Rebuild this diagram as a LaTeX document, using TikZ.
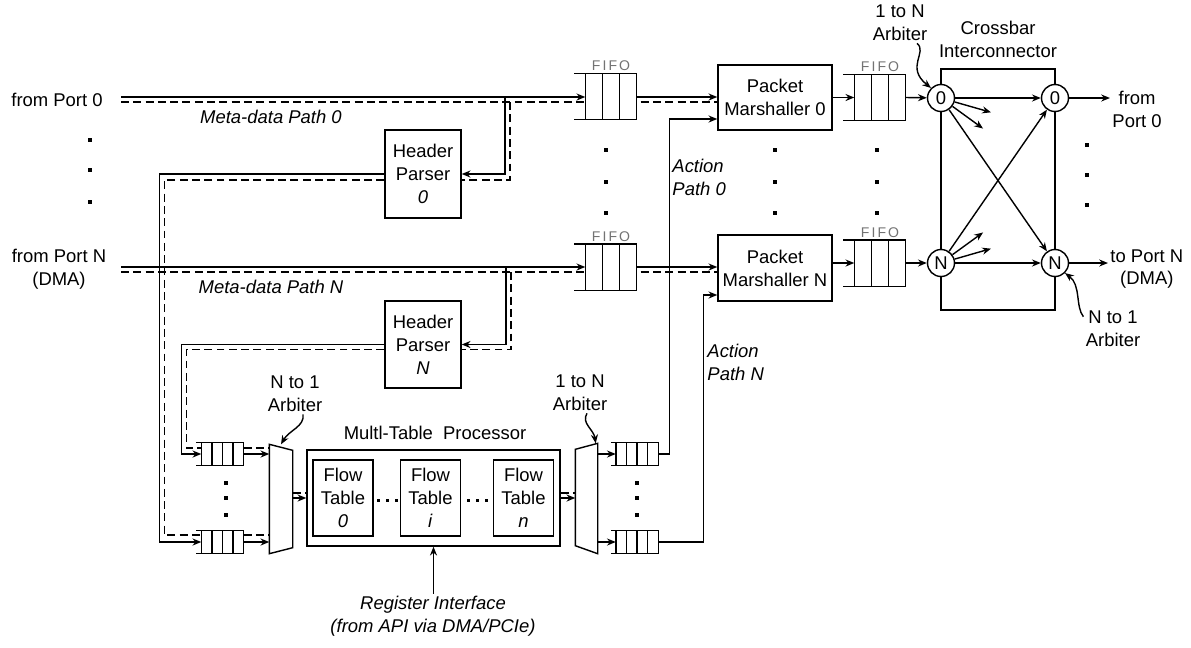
\documentclass[tikz,border=0pt]{standalone}
\usepackage{fontspec}
\setmainfont{Liberation Sans}
\usetikzlibrary{arrows.meta,positioning,calc}

% cells of a fifo / queue: node name, number of cells, lead-in length
\newcommand{\drawcells}[3]{%
  \draw ([xshift=-#3]#1.north west) -- (#1.north east)
        ([xshift=-#3]#1.south west) -- (#1.south east);
  \foreach \k in {0,...,#2}
    \draw ($(#1.north west)!\k/#2!(#1.north east)$) -- ($(#1.south west)!\k/#2!(#1.south east)$);
}

\begin{document}
\begin{tikzpicture}[
        x=0.02cm, y=-0.02cm, line width=0.8pt,
        font={\fontsize{10.5}{13}\selectfont},
        >={Stealth[length=5pt,width=4pt]},
        blk/.style={draw, align=center, inner sep=0pt},
        fifo/.style={minimum width=1cm, minimum height=0.9cm, inner sep=0pt},
        queue/.style={minimum width=0.82cm, minimum height=0.44cm, inner sep=0pt},
        mux/.style={minimum width=0.44cm, minimum height=2.16cm, inner sep=0pt},
        xnode/.style={circle, draw, fill=white, minimum size=0.54cm, inner sep=0pt},
        sig/.style={->},
        meta/.style={dash pattern=on 4.5pt off 2.5pt},
        lbl/.style={align=center, inner sep=1pt},
        ilbl/.style={lbl, font={\fontsize{10.5}{13}\selectfont\itshape}},
        fifolbl/.style={inner sep=1pt, text=black!55, font={\fontsize{8}{9}\selectfont\addfontfeature{LetterSpace=15}}},
        dotmark/.style={fill, minimum size=0.08cm, inner sep=0pt}
    ]
    \useasboundingbox (0,0) rectangle (1191,647);

    % blocks
    \node[blk, minimum width=1.52cm, minimum height=1.76cm] (hp0) at (423,174) {Header\\Parser\\\textit{0}};
    \node[blk, minimum width=1.52cm, minimum height=1.74cm] (hpN) at (423,344.5) {Header\\Parser\\\textit{N}};
    \node[blk, minimum width=2.28cm, minimum height=1.3cm] (pm0) at (775,97.5) {Packet\\Marshaller 0};
    \node[blk, minimum width=2.28cm, minimum height=1.32cm] (pmN) at (775,268) {Packet\\Marshaller N};
    \node[blk, minimum width=5.06cm, minimum height=1.92cm] (mtp) at (433.5,498) {};
    \node[blk, minimum width=1.2cm, minimum height=1.52cm] (ft0) at (343,498) {Flow\\Table\\\textit{0}};
    \node[blk, minimum width=1.2cm, minimum height=1.52cm] (fti) at (430.5,498) {Flow\\Table\\\textit{i}};
    \node[blk, minimum width=1.2cm, minimum height=1.52cm] (ftn) at (523.5,498) {Flow\\Table\\\textit{n}};

    % fifos and queues
    \node[fifo] (fifo0) at (611,96.5) {};
    \node[fifo] (fifoN) at (611,267) {};
    \node[fifo] (ofifo0) at (880,97.5) {};
    \node[fifo] (ofifoN) at (880,263) {};
    \node[queue] (qa) at (222.5,454) {};
    \node[queue] (qb) at (222.5,542) {};
    \node[queue] (qc) at (637,454) {};
    \node[queue] (qd) at (637,542) {};
    \drawcells{fifo0}{3}{0.22cm}
    \drawcells{fifoN}{3}{0.22cm}
    \drawcells{ofifo0}{3}{0.22cm}
    \drawcells{ofifoN}{3}{0.22cm}
    \drawcells{qa}{4}{0.1cm}
    \drawcells{qb}{4}{0.1cm}
    \drawcells{qc}{4}{0.1cm}
    \drawcells{qd}{4}{0.1cm}
    \node[fifolbl, above=0pt of fifo0] (fl0) {FIFO};
    \node[fifolbl, above=0pt of fifoN] (flN) {FIFO};
    \node[fifolbl, above=0pt of ofifo0] (ofl0) {FIFO};
    \node[fifolbl, above=0pt of ofifoN] (oflN) {FIFO};

    % arbiters
    \node[mux] (mux1) at (281,499) {};
    \node[mux, minimum width=0.42cm, minimum height=2.18cm] (mux2) at (586.5,498.5) {};
    \draw (mux1.north west) -- ($(mux1.north east)+(0,6)$) -- ($(mux1.south east)+(0,-6)$) -- (mux1.south west) -- cycle;
    \draw ($(mux2.north west)+(0,6)$) -- (mux2.north east) -- (mux2.south east) -- ($(mux2.south west)+(0,-8)$) -- cycle;

    % crossbar
    \node[draw, minimum width=2.28cm, minimum height=4.82cm, inner sep=0pt] (xbar) at (998,189.5) {};
    \node[xnode] (c0l) at (941,98) {0};
    \node[xnode] (c0r) at (1055,98) {0};
    \node[xnode] (cNl) at (941,263) {N};
    \node[xnode] (cNr) at (1055,263) {N};

    % texts
    \node[lbl] (in0) at (57,100) {from Port 0};
    \node[lbl] (inN) at (59,269) {from Port N\\(DMA)};
    \node[ilbl] (md0) at (271,117) {Meta-data Path 0};
    \node[ilbl] (mdN) at (271,287) {Meta-data Path N};
    \node[ilbl, anchor=west, align=left] (ap0) at (670,177) {Action\\Path 0};
    \node[ilbl, anchor=west, align=left] (apN) at (705,362) {Action\\Path N};
    \node[lbl] (mtpl) at (435,433) {Multl-Table\ \ Processor};
    \node[ilbl] (regif) at (433,616) {Register Interface\\(from API via DMA/PCIe)};
    \node[lbl] (arbT) at (900,23) {1 to N\\Arbiter};
    \node[lbl] (xbl) at (998,39) {Crossbar\\Interconnector};
    \node[lbl, anchor=west] (out0) at (1110,109) {from\\Port 0};
    \node[lbl, anchor=west] (outN) at (1108,269) {to Port N\\(DMA)};
    \node[lbl] (arbR) at (1113,329) {N to 1\\Arbiter};
    \node[lbl] (arbL) at (295,394) {N to 1\\Arbiter};
    \node[lbl] (arbM) at (580,393) {1 to N\\Arbiter};

    % dots
    \foreach \y [count=\i] in {140,170,202}
        \node[dotmark] (dl\i) at (90,\y) {};
    \foreach \y [count=\i] in {150,182,213} {
        \node[dotmark] (dm\i) at (606,\y) {};
        \node[dotmark] (dp\i) at (775,\y) {};
        \node[dotmark] (dq\i) at (877,\y) {};
    }
    \foreach \y [count=\i] in {145,175,205}
        \node[dotmark] (dr\i) at (1087,\y) {};
    \foreach \y [count=\i] in {483,498,515} {
        \node[dotmark] (da\i) at (226,\y) {};
        \node[dotmark] (dc\i) at (637,\y) {};
    }
    \foreach \x [count=\i] in {-9,0,9} {
        \node[dotmark, minimum size=0.06cm] (df\i) at (387+\x,500) {};
        \node[dotmark, minimum size=0.06cm] (dg\i) at (477+\x,500) {};
    }

    % input ports and meta-data paths
    \coordinate (p0s) at (121,97);
    \coordinate (p0d) at (121,102);
    \coordinate (pNs) at (121,267);
    \coordinate (pNd) at (121,272);
    \coordinate (b0s) at (505,97);
    \coordinate (b0d) at (510,102);
    \coordinate (bNs) at (506,267);
    \coordinate (bNd) at (511,272);
    \draw[sig] (p0s) -- (p0s -| fifo0.west);
    \draw[meta] (p0d) -- (p0d -| fifo0.west);
    \draw[sig] (pNs) -- (pNs -| fifoN.west);
    \draw[meta] (pNd) -- (pNd -| fifoN.west);
    \draw[sig] (b0s) |- (hp0.east);
    \draw[meta] (b0d) |- ($(hp0.east)+(0,6)$);
    \draw[sig] (bNs) |- (hpN.east);
    \draw[meta] (bNd) |- ($(hpN.east)+(0,5)$);

    % parsers to queues
    \draw[sig] (hp0.west) -| ($(qb.west)+(-42,0)$) -- (qb.west);
    \draw[meta] ($(hp0.west)+(0,6)$) -| ($(qb.west)+(-37,-7)$) -- ($(qb.west)+(0,-7)$);
    \draw[sig] (hpN.west) -| ($(qa.west)+(-20,0)$) -- (qa.west);
    \draw[meta] ($(hpN.west)+(0,5)$) -| ($(qa.west)+(-15,-6)$) -- ($(qa.west)+(0,-6)$);
    \draw[sig] (qa.east) -- (qa.east -| mux1.west);
    \draw[meta] ($(qa.east)+(0,-6)$) -- ($(qa.east -| mux1.west)+(0,-6)$);
    \draw[sig] (qb.east) -- (qb.east -| mux1.west);
    \draw[meta] ($(qb.east)+(0,-7)$) -- ($(qb.east -| mux1.west)+(0,-7)$);

    % multi-table processor
    \draw[sig] (mux1.east |- mtp.west) -- (mtp.west);
    \draw[meta] ($(mux1.east |- mtp.west)+(0,-5)$) -- ($(mtp.west)+(0,-5)$);
    \draw[sig] (mtp.east) -- (mtp.east -| mux2.west);
    \draw[meta] ($(mtp.east)+(0,-5)$) -- ($(mtp.east -| mux2.west)+(0,-5)$);
    \draw[sig] (regif.north -| mtp.south) -- (mtp.south);
    \draw[sig] (qc.west -| mux2.east) -- (qc.west);
    \draw[sig] (qd.west -| mux2.east) -- (qd.west);

    % action paths
    \draw[sig] (qc.east) -- ++(11,0) |- ($(pm0.west)+(0,21.5)$);
    \draw[sig] (qd.east) -- ++(45,0) |- ($(pmN.west)+(0,27)$);

    % fifos to marshallers to crossbar
    \draw[sig] (fifo0.east |- p0s) -- (pm0.west |- p0s);
    \draw[meta] ($(fifo0.east |- p0d)+(4,0)$) -- (pm0.west |- p0d);
    \draw[sig] (fifoN.east |- pNs) -- (pmN.west |- pNs);
    \draw[meta] ($(fifoN.east |- pNd)+(4,0)$) -- (pmN.west |- pNd);
    \draw[sig] (pm0.east |- ofifo0) -- (ofifo0.west);
    \draw[sig] (pmN.east |- ofifoN) -- (ofifoN.west);
    \draw[sig] (ofifo0.east) -- (c0l);
    \draw[sig] (ofifoN.east) -- (cNl);

    % crossbar links
    \draw[sig] (c0l) -- (c0r);
    \draw[sig] (c0l) -- (cNr);
    \draw[sig] (cNl) -- (c0r);
    \draw[sig] (cNl) -- (cNr);
    \foreach \a in {16,36} {
        \draw[sig] (c0l.-\a) -- ($(c0l)+(\a:52)$);
        \draw[sig] (cNl.\a) -- ($(cNl)+(-\a:52)$);
    }
    \draw[sig] (c0r) -- (c0r -| out0.west);
    \draw[sig] (cNr) -- (cNr -| outN.west);

    % arbiter pointers
    \draw[sig] ($(arbT.south)+(17,0)$) .. controls +(11,9) and +(-26,-21) .. (c0l.north west);
    \draw[sig] ($(arbR.north west)+(0,8)$) .. controls +(-8,-10) and +(16,12) .. (cNr.south east);
    \draw[sig] ($(arbL.south)+(8,0)$) .. controls +(2,12) and +(8,-14) .. (mux1.north);
    \draw[sig] ($(arbM.south)+(7,0)$) .. controls +(-6,10) and +(-2,-14) .. ($(mux2.north east)+(-2,0)$);

\end{tikzpicture}
\end{document}
